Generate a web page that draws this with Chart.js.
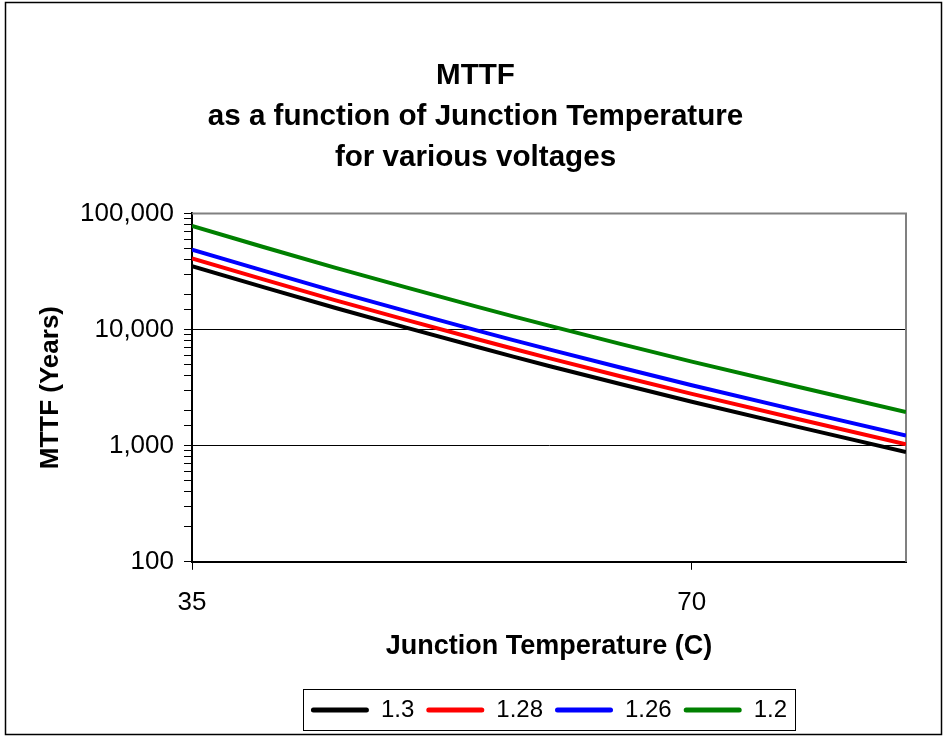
<!DOCTYPE html>
<html>
<head>
<meta charset="utf-8">
<script src="https://cdn.jsdelivr.net/npm/chart.js@4"></script>
<style>
  html, body { margin: 0; padding: 0; background: #fff; }
  #wrap { position: relative; width: 948px; height: 740px; }
</style>
</head>
<body>
<div id="wrap"><canvas id="c" width="948" height="740"></canvas></div>
<script>
// junction temperature (C) where values were read
const temps = [35, 45, 55, 60, 70, 85];

// MTTF (years), one list per voltage
const v130 = [35100, 15400, 7070, 4860, 2390, 880];
const v128 = [41000, 17950, 8250, 5680, 2790, 1030];
const v126 = [48700, 21300, 9800, 6750, 3310, 1220];
const v120 = [78000, 34100, 15700, 10800, 5300, 1950];

const seriesNames = ['1.3', '1.28', '1.26', '1.2'];
const seriesColors = ['#000000', '#ff0000', '#0000ff', '#008000'];
const seriesData = [v130, v128, v126, v120];

const xTicks = [35, 70];
const yTicks = [100, 1000, 10000, 100000];

const FONT = '"Liberation Sans", Arial, sans-serif';

const toPts = (vals) => temps.map((t, i) => ({ x: t, y: vals[i] }));

// outer frame + gray top/right plot border + legend box
const frame = {
  id: 'frame',
  beforeDatasetsDraw(chart) {
    const { ctx, chartArea: a } = chart;
    ctx.save();
    ctx.strokeStyle = '#808080';
    ctx.lineWidth = 2;
    ctx.beginPath();
    ctx.moveTo(a.left, a.top);
    ctx.lineTo(a.right, a.top);
    ctx.lineTo(a.right, a.bottom);
    ctx.stroke();
    ctx.restore();
  },
  afterDraw(chart) {
    const { ctx } = chart;
    ctx.save();
    ctx.strokeStyle = '#000';
    ctx.lineWidth = 1.5;
    ctx.strokeRect(5.5, 2.5, 936, 732);
    const lg = chart.legend;
    if (lg && lg.legendHitBoxes && lg.legendHitBoxes.length) {
      const hb = lg.legendHitBoxes;
      const l = hb[0].left - 8;
      const r = hb[hb.length - 1].left + hb[hb.length - 1].width + 8;
      const t = hb[0].top - 9;
      const b = hb[0].top + hb[0].height + 8;
      ctx.lineWidth = 1;
      ctx.strokeRect(Math.round(l) + 0.5, Math.round(t) + 0.5, Math.round(r - l), Math.round(b - t));
    }
    ctx.restore();
  }
};

new Chart(document.getElementById('c'), {
  type: 'line',
  data: {
    datasets: seriesNames.map((name, i) => ({
      label: name,
      data: toPts(seriesData[i]),
      borderColor: seriesColors[i],
      backgroundColor: seriesColors[i],
      borderWidth: 4,
      pointRadius: 0,
      tension: 0.3,
      fill: false
    }))
  },
  options: {
    responsive: false,
    animation: false,
    layout: { padding: { left: 9, right: 6, top: 21, bottom: 8 } },
    plugins: {
      tooltip: { enabled: false },
      title: {
        display: true,
        text: ['MTTF', 'as a function of Junction Temperature', 'for various voltages'],
        color: '#000',
        font: { family: FONT, size: 29.6, weight: 'bold', lineHeight: 1.39 },
        padding: { top: 34, bottom: 35 }
      },
      legend: {
        position: 'bottom',
        fullSize: false,
        labels: {
          color: '#000',
          font: { family: FONT, size: 24 },
          boxWidth: 58,
          boxHeight: 5,
          padding: 12,
          generateLabels(chart) {
            return chart.data.datasets.map((d, i) => ({
              text: d.label,
              fillStyle: d.borderColor,
              strokeStyle: d.borderColor,
              lineWidth: 0,
              borderRadius: 2.5,
              datasetIndex: i,
              fontColor: '#000'
            }));
          },
          useBorderRadius: true
        }
      }
    },
    scales: {
      x: {
        type: 'linear',
        min: 35,
        max: 85,
        afterBuildTicks(axis) { axis.ticks = xTicks.map(v => ({ value: v })); },
        ticks: { color: '#000', font: { family: FONT, size: 26 }, padding: 17, maxRotation: 0 },
        grid: { drawOnChartArea: false, drawTicks: true, tickLength: 8, color: '#000', lineWidth: 1 },
        border: { display: true, color: '#000', width: 2 },
        title: {
          display: true,
          text: 'Junction Temperature (C)',
          color: '#000',
          font: { family: FONT, size: 27, weight: 'bold', lineHeight: 1 },
          padding: { top: -2, bottom: 26 }
        }
      },
      y: {
        type: 'logarithmic',
        min: 100,
        max: 100000,
        afterFit(axis) { axis.width = 183; },
        ticks: {
          color: '#000',
          font: { family: FONT, size: 26 },
          padding: 10,
          autoSkip: false,
          callback(v) {
            return yTicks.includes(v) ? v.toLocaleString('en-US') : '';
          }
        },
        grid: {
          drawTicks: true,
          tickLength: 8,
          color(ctx) {
            const v = ctx.tick && ctx.tick.value;
            return (v === 1000 || v === 10000) ? '#000' : 'rgba(0,0,0,0)';
          },
          tickColor: '#000',
          lineWidth: 1
        },
        border: { display: true, color: '#000', width: 2 },
        title: {
          display: true,
          text: 'MTTF (Years)',
          color: '#000',
          font: { family: FONT, size: 26, weight: 'bold' },
          padding: { top: 26, bottom: 0 }
        }
      },
      // empty right-hand spacer so the plot stops where the original does
      spacer: {
        type: 'linear',
        position: 'right',
        display: true,
        afterFit(axis) { axis.width = 36; },
        ticks: { display: false },
        grid: { display: false, drawTicks: false },
        border: { display: false }
      }
    }
  },
  plugins: [frame]
});
</script>
</body>
</html>
